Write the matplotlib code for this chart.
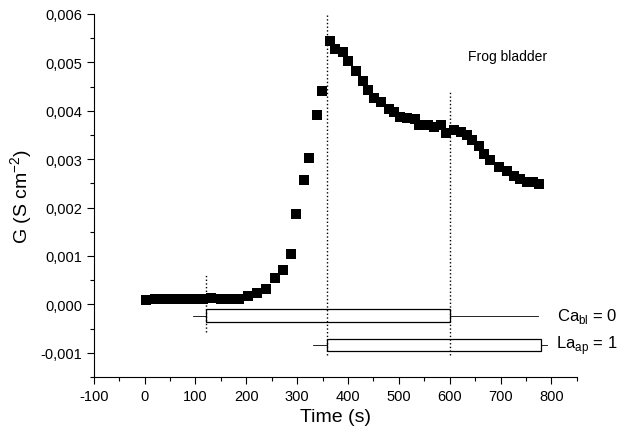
import numpy as np
import matplotlib.pyplot as plt
from matplotlib.ticker import MultipleLocator, FuncFormatter
from matplotlib.patches import Rectangle

plt.rcParams['font.family'] = ['Liberation Sans', 'DejaVu Sans']
plt.rcParams['axes.unicode_minus'] = False

# tijd (s) en geleiding G (S cm-2)
time = [3, 20, 35, 51, 68, 84, 98, 115, 130, 150, 166, 185, 204, 221, 238,
        257, 273, 287, 298, 313, 324, 339, 349, 364, 375, 390, 400, 415, 429,
        440, 452, 465, 480, 490, 503, 516, 531, 540, 557, 569, 582, 593, 608,
        622, 634, 643, 657, 667, 679, 696, 712, 727, 739, 751, 763, 775]
G = [0.00009, 0.00011, 0.00012, 0.00012, 0.00012, 0.00012, 0.00012, 0.00012,
     0.00013, 0.00012, 0.00012, 0.00012, 0.00017, 0.00024, 0.00031, 0.00055,
     0.00071, 0.00105, 0.00186, 0.00257, 0.00302, 0.00392, 0.00441, 0.00545,
     0.00528, 0.00522, 0.00503, 0.00483, 0.00462, 0.00442, 0.00427, 0.00418,
     0.00404, 0.00398, 0.00388, 0.00384, 0.00383, 0.00371, 0.00371, 0.00367,
     0.00371, 0.00355, 0.00360, 0.00357, 0.00350, 0.00340, 0.00327, 0.00311,
     0.00298, 0.00284, 0.00275, 0.00266, 0.00260, 0.00253, 0.00253, 0.00248]

# momenten van oplossingswissel
events = [120, 358, 600]
ca_period = (120, 600)
la_period = (358, 780)

fig = plt.figure(figsize=(6.17, 4.39), dpi=100)
ax = fig.add_axes([0.152, 0.139, 0.783, 0.827])

ax.plot(time, G, 's', color='black', markersize=6.8, markeredgewidth=0)

# stippellijnen
ax.plot([events[0], events[0]], [-0.00058, 0.00062], ':', color='black', lw=1)
ax.plot([events[1], events[1]], [-0.00104, 0.006], ':', color='black', lw=1)
ax.plot([events[2], events[2]], [-0.00104, 0.0044], ':', color='black', lw=1)

# Ca balk
ax.add_patch(Rectangle((ca_period[0], -0.00037), ca_period[1] - ca_period[0],
                       0.00027, fill=False, edgecolor='black', lw=0.9))
ax.plot([96, ca_period[0]], [-0.00023, -0.00023], color='black', lw=0.6)
ax.plot([ca_period[1], 774], [-0.00023, -0.00023], color='black', lw=0.6)
ax.text(811, -0.00023, 'Ca$_{\\mathregular{bl}}$ = 0', fontsize=12, va='center')

# La balk
ax.add_patch(Rectangle((la_period[0], -0.00097), la_period[1] - la_period[0],
                       0.00025, fill=False, edgecolor='black', lw=0.9))
ax.plot([332, la_period[0]], [-0.00083, -0.00083], color='black', lw=0.6)
ax.plot([la_period[1], 792], [-0.00083, -0.00083], color='black', lw=0.6)
ax.text(808, -0.00083, 'La$_{\\mathregular{ap}}$ = 1', fontsize=12, va='center')

ax.text(635, 0.00513, 'Frog bladder', fontsize=10, va='center')

ax.set_xlim(-100, 850)
ax.set_ylim(-0.0015, 0.006)
ax.xaxis.set_major_locator(MultipleLocator(100))
ax.xaxis.set_minor_locator(MultipleLocator(50))
ax.yaxis.set_major_locator(MultipleLocator(0.001))
ax.yaxis.set_minor_locator(MultipleLocator(0.0005))
ax.yaxis.set_major_formatter(FuncFormatter(lambda v, p: f'{v:.3f}'.replace('.', ',')))
ax.tick_params(direction='out', labelsize=10.5, length=5, width=0.8)
ax.tick_params(which='minor', length=3, width=0.8)

ax.spines['top'].set_visible(False)
ax.spines['right'].set_visible(False)

ax.set_xlabel('Time (s)', fontsize=14)
ax.set_ylabel('G (S cm$^{\\mathregular{-2}}$)', fontsize=14)

fig.savefig('out.png', dpi=100)
